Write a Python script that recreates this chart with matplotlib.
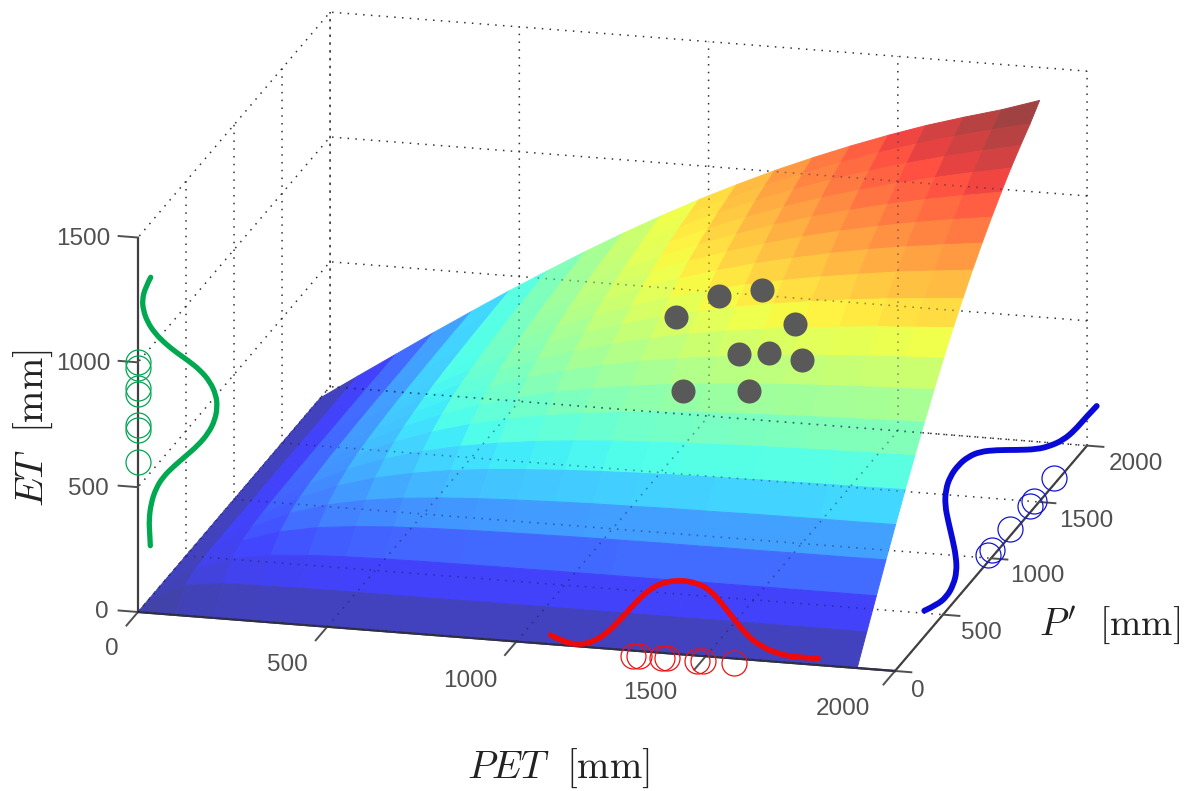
import numpy as np
import matplotlib
matplotlib.use("Agg")
import matplotlib.pyplot as plt
from matplotlib.path import Path
from matplotlib.patches import PathPatch, Polygon
from matplotlib.transforms import ScaledTranslation
from mpl_toolkits.mplot3d import proj3d

W, H = 1193, 791
plt.rcParams['font.family'] = ['Liberation Sans', 'DejaVu Sans']
plt.rcParams['mathtext.fontset'] = 'cm'
plt.rcParams['grid.linestyle'] = (0, (1.0, 4.1))
plt.rcParams['grid.color'] = '#333333'
plt.rcParams['grid.linewidth'] = 1.1

PET_GRID = [0, 100, 200, 300, 400, 500, 600, 700, 800, 900, 1000, 1100, 1200, 1300, 1400, 1500, 1600, 1700, 1800, 1900]
P_GRID = PET_GRID
ET_LOWER = [
    [0],
    [0, 74],
    [0, 92, 148],
    [0, 96, 173, 222],
    [0, 98, 184, 250, 296],
    [0, 99, 190, 266, 326, 370],
    [0, 99, 193, 276, 346, 401, 444],
    [0, 99, 195, 282, 359, 424, 476, 518],
    [0, 99, 196, 286, 368, 440, 500, 551, 592],
    [0, 100, 197, 289, 374, 451, 519, 577, 626, 666],
    [0, 100, 197, 291, 379, 460, 533, 597, 652, 700, 740],
    [0, 100, 198, 293, 383, 467, 544, 613, 674, 728, 774, 814],
    [0, 100, 198, 294, 385, 472, 552, 625, 692, 750, 803, 848, 888],
    [0, 100, 198, 295, 388, 476, 559, 636, 706, 769, 827, 878, 922, 962],
    [0, 100, 199, 295, 389, 479, 564, 644, 718, 786, 847, 903, 952, 996, 1036],
    [0, 100, 199, 296, 391, 482, 569, 651, 728, 799, 864, 924, 978, 1027, 1071, 1110],
    [0, 100, 199, 296, 392, 484, 572, 656, 736, 810, 879, 943, 1000, 1054, 1102, 1145, 1184],
    [0, 100, 199, 297, 393, 486, 575, 661, 743, 820, 892, 959, 1021, 1077, 1129, 1176, 1219, 1258],
    [0, 100, 199, 297, 393, 487, 578, 665, 749, 828, 902, 972, 1037, 1097, 1153, 1204, 1251, 1293, 1332],
    [0, 100, 199, 298, 394, 489, 580, 669, 754, 835, 912, 984, 1052, 1115, 1174, 1229, 1280, 1325, 1367, 1416],
]
TICKS_H = [0, 500, 1000, 1500, 2000]
TICKS_Z = [0, 500, 1000, 1500]

GREEN_ET = [1000, 976, 896, 872, 748, 728, 600]
RED_PET = [1308, 1324, 1385, 1398, 1477, 1493, 1575]
BLUE_P = [1713, 1505, 1460, 1256, 1070, 1025]

DOTS_X = [676, 719, 762, 795, 739, 769, 802, 683, 749]
DOTS_Y = [317, 296, 290, 324, 354, 353, 360, 391, 391]
GREEN_X = [150.7, 145, 142.3, 143.3, 147.3, 155, 165, 176.7, 188.3, 200, 210, 216, 217.3, 215, 208.3, 198.3, 185, 173.3, 163.3, 156, 151, 149, 149.7, 150.3]
GREEN_Y = [277.3, 288.3, 300, 310, 321.7, 333.3, 343.3, 352.7, 360.7, 370, 381.7, 395, 406.7, 420, 433.3, 445, 456.7, 466.7, 476.7, 488.3, 503.3, 520, 533.3, 545.7]
BLUE_X = [924.3, 936.7, 946.7, 953.3, 956.7, 956, 952.7, 948.3, 945, 945.7, 950, 958.3, 968.3, 980, 996.7, 1016.7, 1036.7, 1050, 1063.3, 1075, 1085, 1096.7]
BLUE_Y = [610.7, 605, 596.7, 585, 571.7, 556.7, 540, 521.7, 505, 490, 476.7, 465, 456.7, 451.7, 450, 450, 449.3, 446, 440, 430, 418.3, 406]
RED_X = [550.7, 563.3, 578.3, 593.3, 606.7, 620, 633.3, 646.7, 660, 678.3, 696.7, 710, 721.7, 733.3, 746.7, 760, 776.7, 796.7, 818.3]
RED_Y = [635, 641.7, 645, 641.7, 633.3, 620, 605, 591.7, 583.3, 580, 582.7, 590, 603.3, 618.3, 635, 645.7, 653.3, 657.7, 658.3]

n = len(ET_LOWER)
Z = np.zeros((n, n))
for j, row in enumerate(ET_LOWER):
    for i, v in enumerate(row):
        Z[j, i] = v
        Z[i, j] = v
X, Y = np.meshgrid(PET_GRID, P_GRID)

fig = plt.figure(figsize=(W / 100, H / 100), dpi=100, facecolor='white')
ax = fig.add_axes([0, 0, 1, 1], projection='3d', computed_zorder=False)
ax.set_proj_type('ortho')
ax.view_init(elev=17.6, azim=-75.55)
ax.set_xlim(0, 2000, view_margin=0)
ax.set_ylim(0, 2000, view_margin=0)
ax.set_zlim(0, 1500, view_margin=0)
ax.set_box_aspect((782, 770, 393))
ax.patch.set_alpha(0)

centers = (Z[:-1, :-1] + Z[1:, :-1] + Z[:-1, 1:] + Z[1:, 1:]) / 4
fc = plt.cm.jet(np.clip(centers / 1370, 0, 1))
fc[..., :3] = 0.74 * fc[..., :3] + 0.26
surf = ax.plot_surface(X, Y, Z, facecolors=fc, rstride=1, cstride=1, shade=False,
                       linewidth=0.7, antialiased=True, zorder=2)
surf.set_edgecolors(fc.reshape(-1, 4))

def to_px(x, y, z):
    sx, sy, _ = proj3d.proj_transform(x, y, z, ax.get_proj())
    ax.apply_aspect()
    p = ax.transData.transform((sx, sy))
    return np.array([p[0], H - p[1]])

S = float(H)
ax.set_position([0, 0, S / W, S / H])
for _ in range(2):
    fig.canvas.draw()
    span = to_px(2000, 0, 0)[0] - to_px(0, 0, 0)[0]
    S *= 757.0 / span
    ax.set_position([0, 0, S / W, S / H])
fig.canvas.draw()
o = to_px(0, 0, 0)
ax.set_position([(138 - o[0]) / W, -(612 - o[1]) / H, S / W, S / H])
ax.apply_aspect()

ax.set_xticks(TICKS_H)
ax.set_yticks(TICKS_H)
ax.set_zticks(TICKS_Z)
ax.set_xticklabels([str(t) for t in TICKS_H])
ax.set_yticklabels([str(t) for t in TICKS_H])
ax.set_zticklabels([str(t) for t in TICKS_Z])
ax.tick_params(labelsize=17.5, labelcolor='#505050', colors='#505050', pad=0)
for axis, ifac, ofac in ((ax.xaxis, 0.75, 0), (ax.yaxis, 0.27, 0), (ax.zaxis, 0, 0.32)):
    axis.set_pane_color((1, 1, 1, 0))
    axis.pane.set_edgecolor('none')
    axis.line.set_color('#404040')
    axis.line.set_linewidth(1.6)
    axis._axinfo['tick']['inward_factor'] = ifac
    axis._axinfo['tick']['outward_factor'] = ofac
    axis._axinfo['tick']['linewidth'] = {True: 1.4, False: 0.5}
    axis._axinfo['tick']['color'] = '#404040'
ax.zaxis.set_ticks_position('lower')
ax.zaxis._get_tickdir = lambda pos: 0

X_LABEL_SHIFT = [(-23, 15), (-36, 16), (-43, 17), (-52, 14), (-48, 16)]
Y_LABEL_SHIFT = [(9, 1), (24, -1), (32, -1), (33, 0), (35, -1)]
Z_LABEL_SHIFT = [(-18, -14), (-32, -12), (-37, -12), (-37, -13)]

def shift_labels(axis, shifts):
    base = axis.get_major_ticks
    def shifted(numticks=None):
        ticks = base(numticks)
        for tick, (dx, dy) in zip(ticks, shifts):
            tick.label1.set_transform(ax.transData + ScaledTranslation(dx / 100, -dy / 100, fig.dpi_scale_trans))
        return ticks
    axis.get_major_ticks = shifted

shift_labels(ax.xaxis, X_LABEL_SHIFT)
shift_labels(ax.yaxis, Y_LABEL_SHIFT)
shift_labels(ax.zaxis, Z_LABEL_SHIFT)

ax.plot(TICKS_H, [0] * len(TICKS_H), [0] * len(TICKS_H), color='#303048', lw=1.5, zorder=3)

ax.plot([0] * len(GREEN_ET), [0] * len(GREEN_ET), GREEN_ET, 'o', ms=18, mfc='none',
        mec='#00a651', mew=0.9, zorder=4)
ax.plot(RED_PET, [0] * len(RED_PET), [-20] * len(RED_PET), 'o', ms=18, mfc='none',
        mec='#ee1111', mew=0.9, zorder=4)
ax.plot([1985] * len(BLUE_P), BLUE_P, [0] * len(BLUE_P), 'o', ms=18, mfc='none',
        mec='#1515d0', mew=0.9, zorder=4)

ov = fig.add_axes([0, 0, 1, 1], facecolor='none')
ov.set_xlim(0, W)
ov.set_ylim(H, 0)
ov.axis('off')

# grid seen through the translucent surface: the same grid lines, clipped to the surface outline
edge = [(p, P_GRID[0], Z[0, i]) for i, p in enumerate(PET_GRID)]
edge += [(PET_GRID[-1], p, Z[j, -1]) for j, p in enumerate(P_GRID)]
edge += [(p, P_GRID[-1], Z[-1, i]) for i, p in reversed(list(enumerate(PET_GRID)))]
edge += [(PET_GRID[0], p, Z[j, 0]) for j, p in reversed(list(enumerate(P_GRID)))]
outline = Polygon([to_px(*e) for e in edge], closed=True, transform=ov.transData, fc='none', ec='none')
ov.add_patch(outline)
lo, hi = TICKS_H[0], TICKS_H[-1]
segments = []
for t in TICKS_H:
    segments += [((t, lo, 0), (t, hi, 0)), ((lo, t, 0), (hi, t, 0)),
                 ((t, hi, TICKS_Z[0]), (t, hi, TICKS_Z[-1])), ((lo, t, TICKS_Z[0]), (lo, t, TICKS_Z[-1]))]
for z in TICKS_Z:
    segments += [((lo, lo, z), (lo, hi, z)), ((lo, hi, z), (hi, hi, z))]
for a, b in segments:
    pa, pb = to_px(*a), to_px(*b)
    line, = ov.plot([pa[0], pb[0]], [pa[1], pb[1]], color='#14143c', alpha=0.42, lw=1.2,
                    ls=(0, (1.0, 3.8)), zorder=1)
    line.set_clip_path(outline)

ov.scatter(DOTS_X, DOTS_Y, s=300, c='#595959', linewidths=0, zorder=3)

def smooth_line(xs, ys, color, lw):
    pts = np.column_stack([xs, ys])
    verts = [pts[0]]
    codes = [Path.MOVETO]
    for k in range(1, len(pts) - 1):
        end = pts[k + 1] if k == len(pts) - 2 else (pts[k] + pts[k + 1]) / 2
        verts += [pts[k], end]
        codes += [Path.CURVE3, Path.CURVE3]
    ov.add_patch(PathPatch(Path(verts, codes), fc='none', ec=color, lw=lw, capstyle='round', joinstyle='round', zorder=4))

smooth_line(GREEN_X, GREEN_Y, '#00a94f', 3.8)
smooth_line(BLUE_X, BLUE_Y, '#0a0ad8', 4.2)
smooth_line(RED_X, RED_Y, '#ee0a0a', 4.0)

fig.text(558 / W, 1 - 768 / H, r'$PET\ \ [\mathrm{mm}]$', fontsize=28, color='#222222', ha='center', va='center')
fig.text(33 / W, 1 - 428 / H, r'$ET\ \ [\mathrm{mm}]$', fontsize=28, color='#222222', ha='center', va='center', rotation=90)
fig.text(1110 / W, 1 - 625 / H, r"$P'\ \ [\mathrm{mm}]$", fontsize=27, color='#222222', ha='center', va='center')

fig.savefig('out.png', dpi=100)
